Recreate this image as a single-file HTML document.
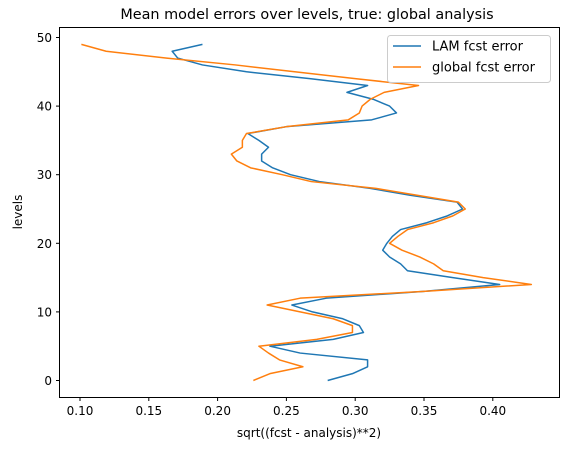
<!DOCTYPE html>
<html><head><meta charset="utf-8"><style>
body{margin:0;background:#fff;font-family:"Liberation Sans","DejaVu Sans",sans-serif}
svg text{font-family:"DejaVu Sans","Liberation Sans",sans-serif}
</style></head><body>
<svg id="chart" width="570" height="444" xmlns="http://www.w3.org/2000/svg">
<rect width="570" height="444" fill="#fff"/>
<text x="307" y="19" font-size="14.4" text-anchor="middle">Mean model errors over levels, true: global analysis</text>
<g id="plot"></g>
<rect x="59.5" y="27.5" width="500" height="370" fill="none" stroke="#000" stroke-width="1"/>
<text x="309" y="437" font-size="12" text-anchor="middle">sqrt((fcst - analysis)**2)</text>
<text x="22" y="212" font-size="12" text-anchor="middle" transform="rotate(-90 22 212)">levels</text>
<g>
<rect x="387.5" y="35.5" width="163" height="47" rx="3" fill="#fff" fill-opacity="0.8" stroke="#ccc"/>
<line x1="393" y1="46" x2="421" y2="46" stroke="#1f77b4" stroke-width="1.5"/>
<text x="432" y="50.5" font-size="13">LAM fcst error</text>
<line x1="393" y1="67" x2="421" y2="67" stroke="#ff7f0e" stroke-width="1.5"/>
<text x="432" y="71.5" font-size="13">global fcst error</text>
</g>
</svg>
<script>
const levels = Array.from({length:50},(_, i)=>i);
const lamErr = [0.280,0.298,0.309,0.309,0.260,0.238,0.284,0.306,0.303,0.291,0.269,0.254,0.279,0.350,0.405,0.371,0.338,0.333,0.325,0.320,0.323,0.327,0.333,0.352,0.367,0.378,0.374,0.340,0.311,0.274,0.253,0.240,0.232,0.232,0.237,0.230,0.222,0.250,0.312,0.330,0.325,0.313,0.294,0.309,0.267,0.221,0.189,0.171,0.167,0.189];
const globalErr = [0.226,0.238,0.262,0.245,0.237,0.230,0.272,0.298,0.298,0.284,0.260,0.236,0.260,0.350,0.428,0.393,0.364,0.357,0.347,0.334,0.325,0.331,0.338,0.357,0.371,0.380,0.375,0.345,0.315,0.268,0.247,0.224,0.214,0.210,0.218,0.218,0.221,0.250,0.295,0.303,0.305,0.311,0.321,0.346,0.300,0.256,0.213,0.163,0.119,0.101];
const xTicks = [0.10,0.15,0.20,0.25,0.30,0.35,0.40];
const yTicks = [0,10,20,30,40,50];
const NS="http://www.w3.org/2000/svg";
const xs = v => 80 + (v-0.10)/0.05*68.8;
const ys = v => 380.5 - v*6.86;
const g = document.getElementById('plot');
function mk(t,a){const e=document.createElementNS(NS,t);for(const k in a)e.setAttribute(k,a[k]);g.appendChild(e);return e;}
xTicks.forEach(t=>{
  const l=mk('line',{x1:xs(t),x2:xs(t),y1:397.5,y2:401,stroke:'#000'});
  
  
  const tx=mk('text',{x:xs(t),y:415,'font-size':12,'text-anchor':'middle'});
  tx.textContent=t.toFixed(2);
  
  
});
yTicks.forEach(t=>{
  const l=mk('line',{x1:56,x2:59.5,y1:ys(t),y2:ys(t),stroke:'#000'});
  
  
  const tx=mk('text',{x:52,y:ys(t)+4.5,'font-size':12,'text-anchor':'end'});
  tx.textContent=t;
  
  
});
function series(vals,color,name){
  const p=mk('polyline',{points:vals.map((v,i)=>xs(v)+','+ys(levels[i])).join(' '),fill:'none',stroke:color,'stroke-width':1.5,'stroke-linejoin':'round'});
  
  
}
series(lamErr,'#1f77b4','lam-error-line');
series(globalErr,'#ff7f0e','global-error-line');
</script>
</body></html>
